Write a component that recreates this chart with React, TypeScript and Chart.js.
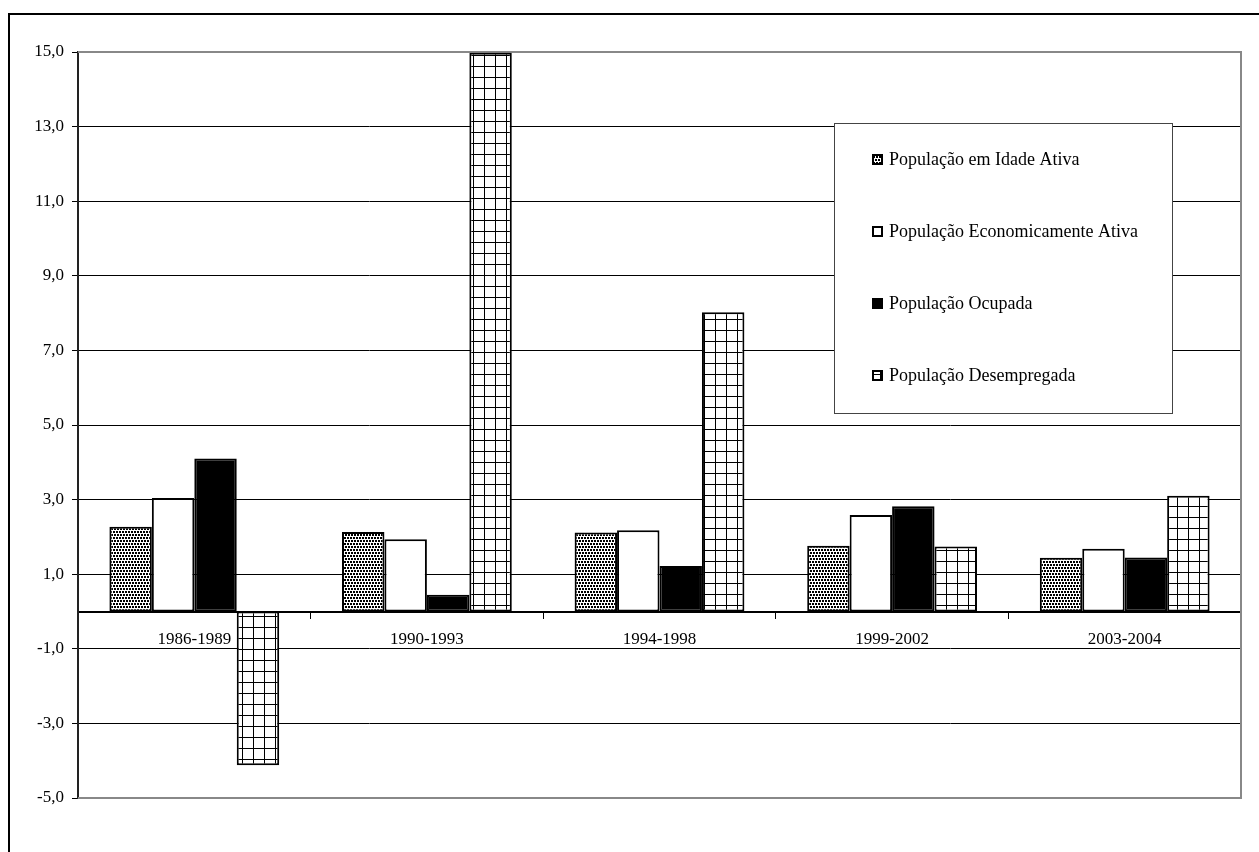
import React, { useEffect, useRef } from "react";
import { Chart, registerables } from "chart.js";

Chart.register(...registerables);

const categories = ["1986-1989", "1990-1993", "1994-1998", "1999-2002", "2003-2004"];
const seriesLabels = [
  "População em Idade Ativa",
  "População Economicamente Ativa",
  "População Ocupada",
  "População Desempregada",
];
const idadeAtiva = [2.27, 2.13, 2.12, 1.76, 1.44];
const economicamenteAtiva = [3.04, 1.94, 2.18, 2.59, 1.68];
const ocupada = [4.1, 0.45, 1.22, 2.82, 1.45];
const desempregada = [-4.12, 14.98, 8.02, 1.74, 3.1];
const yMin = -5;
const yMax = 15;
const yStep = 2;

const FONT = "'Liberation Serif', 'Times New Roman', serif";

function makeDotPattern(ctx: CanvasRenderingContext2D): CanvasPattern | string {
  const c = document.createElement("canvas");
  c.width = 6;
  c.height = 6;
  const g = c.getContext("2d");
  if (!g) return "#888";
  g.fillStyle = "#fff";
  g.fillRect(0, 0, 6, 6);
  g.fillStyle = "#000";
  g.fillRect(0, 0, 2, 2);
  g.fillRect(3, 0, 2, 2);
  g.fillRect(2, 3, 2, 2);
  g.fillRect(5, 3, 1, 2);
  g.fillRect(0, 3, 1, 2);
  return ctx.createPattern(c, "repeat") || "#888";
}

function makeGridPattern(ctx: CanvasRenderingContext2D): CanvasPattern | string {
  const c = document.createElement("canvas");
  c.width = 11;
  c.height = 11;
  const g = c.getContext("2d");
  if (!g) return "#fff";
  g.fillStyle = "#fff";
  g.fillRect(0, 0, 11, 11);
  g.fillStyle = "#000";
  g.fillRect(0, 0, 11, 1);
  g.fillRect(0, 0, 1, 11);
  return ctx.createPattern(c, "repeat") || "#fff";
}

export default function App() {
  const canvasRef = useRef<HTMLCanvasElement | null>(null);

  useEffect(() => {
    const canvas = canvasRef.current;
    if (!canvas) return;
    const ctx = canvas.getContext("2d");
    if (!ctx) return;

    const dot = makeDotPattern(ctx);
    const grid = makeGridPattern(ctx);
    const fills = [dot, "#ffffff", "#000000", grid];
    const values = [idadeAtiva, economicamenteAtiva, ocupada, desempregada];

    const frameplugin = {
      id: "plotFrame",
      beforeDatasetsDraw(chart: any) {
        const { left, right, top, bottom } = chart.chartArea;
        const c = chart.ctx;
        c.save();
        c.strokeStyle = "#888888";
        c.lineWidth = 2;
        c.beginPath();
        c.moveTo(left, top);
        c.lineTo(right, top);
        c.lineTo(right, bottom);
        c.lineTo(left, bottom);
        c.stroke();
        c.restore();
      },
    };

    const legendPlugin = {
      id: "boxLegend",
      afterDraw(chart: any) {
        const c = chart.ctx;
        c.save();
        const bx = 834.5, by = 123.5, bw = 338, bh = 290;
        c.fillStyle = "#fff";
        c.fillRect(bx, by, bw, bh);
        c.strokeStyle = "#444";
        c.lineWidth = 1;
        c.strokeRect(bx, by, bw, bh);
        c.font = `18px ${FONT}`;
        c.textBaseline = "middle";
        c.textAlign = "left";
        chart.data.datasets.forEach((ds: any, i: number) => {
          const cy = 159.5 + i * 72;
          const mx = 872, my = Math.round(cy - 5.5);
          c.fillStyle = ds.backgroundColor;
          c.fillRect(mx, my, 11, 11);
          c.strokeStyle = "#000";
          c.lineWidth = 2;
          c.strokeRect(mx + 1, my + 1, 9, 9);
          c.fillStyle = "#000";
          c.fillText(ds.label, 889, cy + 1);
        });
        c.restore();
      },
    };

    const chart = new Chart(ctx, {
      type: "bar",
      data: {
        labels: categories,
        datasets: seriesLabels.map((label, i) => ({
          label,
          data: values[i],
          backgroundColor: fills[i] as any,
          borderColor: "#000",
          borderWidth: 2,
          borderSkipped: false,
          categoryPercentage: 0.73,
          barPercentage: 1,
        })),
      },
      options: {
        animation: false,
        responsive: false,
        devicePixelRatio: 1,
        layout: { padding: { left: 0, top: 52, right: 18, bottom: 54 } },
        plugins: {
          legend: { display: false },
          tooltip: { enabled: false },
          title: { display: false },
        },
        scales: {
          x: {
            position: { y: 0 } as any,
            afterFit: (scale: any) => {
              scale.height = 54;
            },
            grid: {
              offset: true,
              drawOnChartArea: false,
              drawTicks: true,
              tickLength: 6,
              color: "#000",
              tickColor: "#000",
              lineWidth: 1,
            },
            border: { display: true, color: "#000", width: 2 },
            ticks: {
              color: "#000",
              font: { family: FONT, size: 17 },
              padding: 12,
              maxRotation: 0,
              autoSkip: false,
            },
          },
          y: {
            min: yMin,
            max: yMax,
            afterFit: (scale: any) => {
              scale.width = 78;
            },
            grid: {
              color: "#000",
              tickColor: "#000",
              lineWidth: 1,
              drawTicks: true,
              tickLength: 6,
            },
            border: { display: true, color: "#222", width: 2 },
            ticks: {
              stepSize: yStep,
              color: "#000",
              padding: 8,
              font: { family: FONT, size: 17 },
              callback: (v: any) => Number(v).toFixed(1).replace(".", ","),
            },
          },
        },
      },
      plugins: [frameplugin, legendPlugin],
    });

    return () => chart.destroy();
  }, []);

  return (
    <div style={{ position: "fixed", left: 0, top: 0, width: 1259, height: 852, overflow: "hidden", background: "#fff" }}>
      <div
        style={{
          position: "absolute",
          left: 8,
          top: 13,
          width: 1400,
          height: 1000,
          borderLeft: "2px solid #000",
          borderTop: "2px solid #000",
        }}
      />
      <canvas
        ref={canvasRef}
        width={1259}
        height={852}
        style={{ position: "absolute", left: 0, top: 0, width: 1259, height: 852 }}
      />
    </div>
  );
}
